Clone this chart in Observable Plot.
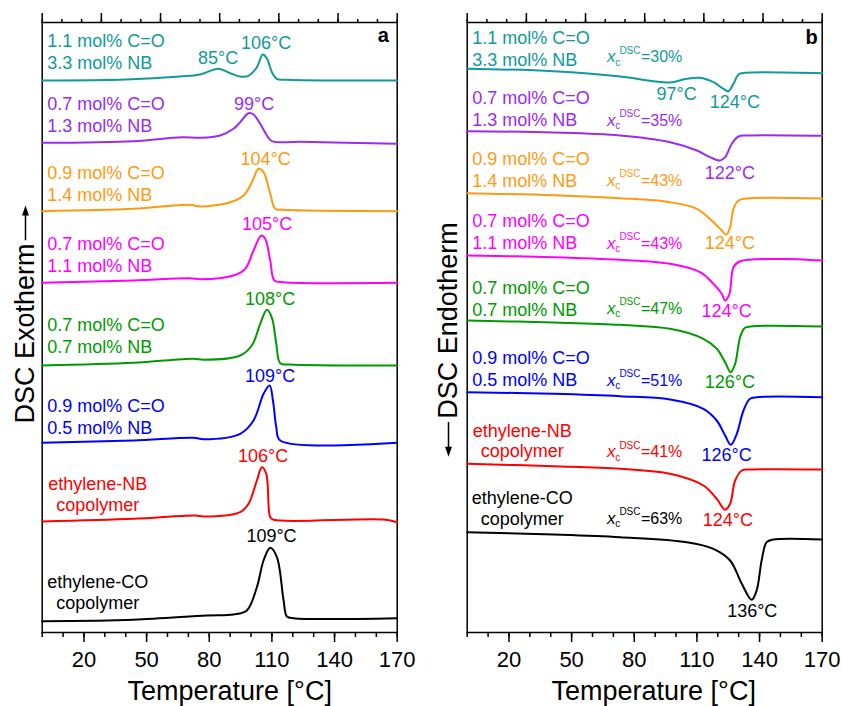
<!DOCTYPE html>
<html><head><meta charset="utf-8">
<script src="https://cdn.jsdelivr.net/npm/d3@7"></script>
<script src="https://cdn.jsdelivr.net/npm/@observablehq/plot@0.6"></script>
<style>
body{margin:0;background:#fff;}
#wrap{position:relative;width:842px;height:706px;font-family:"Liberation Sans",Arial,sans-serif;background:#fff;overflow:hidden;}
.panel{position:absolute;top:0;}
.ytitle{position:absolute;white-space:nowrap;font-size:27px;line-height:27px;transform:translate(-50%,-50%) rotate(-90deg);display:flex;align-items:center;color:#000;}
.ytitle svg{display:block;}
</style></head><body>
<div id="wrap">
  <div class="panel" id="pa" style="left:0px"></div>
  <div class="panel" id="pb" style="left:420px"></div>
  <div class="ytitle" style="left:25px;top:314px"><span>DSC Exotherm</span><svg width="36" height="12" style="margin-left:3px"><line x1="0" y1="6" x2="27" y2="6" stroke="#000" stroke-width="1.5"/><polygon points="25,2.5 35,6 25,9.5" fill="#000"/></svg></div>
  <div class="ytitle" style="left:448px;top:340px"><svg width="36" height="12" style="margin-right:3px"><polygon points="1,6 11,2.5 11,9.5" fill="#000"/><line x1="9" y1="6" x2="36" y2="6" stroke="#000" stroke-width="1.5"/></svg><span>DSC Endotherm</span></div>
</div>
<script>
// ---------- axis ticks ----------
const bottomMajorTicks = [20, 50, 80, 110, 140, 170];
const bottomMinorTicks = [0, 10, 20, 30, 40, 50, 60, 70, 80, 90, 100, 110, 120, 130, 140, 150, 160, 170];
// top axis of the original has its own scale 0..180 spanning the same width
const topAxisMax = 180;
const topMajorTicks = [0, 30, 60, 90, 120, 150, 180];
const topMinorTicks = [0, 10, 20, 30, 40, 50, 60, 70, 80, 90, 100, 110, 120, 130, 140, 150, 160, 170, 180];

// ---------- sample names & colours ----------
const sampleNames = [
  "1.1 mol% C=O\n3.3 mol% NB",
  "0.7 mol% C=O\n1.3 mol% NB",
  "0.9 mol% C=O\n1.4 mol% NB",
  "0.7 mol% C=O\n1.1 mol% NB",
  "0.7 mol% C=O\n0.7 mol% NB",
  "0.9 mol% C=O\n0.5 mol% NB",
  "ethylene-NB\ncopolymer",
  "ethylene-CO\ncopolymer"
];
const sampleColors = ["#11999b", "#9a2cf0", "#ff9a10", "#ff00ff", "#009a00", "#0000ff", "#ff0000", "#000000"];

// ---------- panel a: crystallisation (exotherm), [T °C, offset signal] ----------
const a_teal = [[0,552],[40,553],[66,556],[75.6,558],[84.4,563.7],[90,559.3],[94.8,556],[98.8,556.7],[102.8,565.3],[105.6,578],[107.6,574],[110,560.3],[112.3,553.7],[117,552.7],[170,552]];
const a_purple = [[0,489.7],[43.7,491.3],[66.9,495.3],[75.6,494.7],[85.2,497],[91.6,503.7],[94.8,510.3],[98.8,519.3],[101.2,518],[104.4,508.7],[107.6,497],[110,491.3],[123.6,490.7],[170,488.7]];
const a_orange = [[0,421.3],[43.7,423.7],[70.9,427.7],[75.6,426],[90,430.3],[96.4,437],[100.4,450.3],[103.6,463.7],[106,460.3],[109.2,438.7],[111.6,423.7],[115.6,422.7],[170,421.3]];
const a_magenta = [[0,349.7],[43.7,352],[70.9,354.3],[75.6,353.3],[91.6,357],[97.2,363.7],[101.2,382],[104.9,397],[106.8,393.7],[109.2,372],[111.2,352],[115.6,350.3],[170,349.7]];
const a_green = [[0,267],[43.7,269.7],[72.5,273.7],[77.3,272.7],[94.8,277],[100.4,287],[104.4,308.7],[107.6,322.7],[110,314.7],[112.1,288.7],[114,269.3],[118.8,268],[170,267]];
const a_blue = [[0,189.7],[43.7,192],[72.5,194.7],[77.3,193.3],[94.8,198.7],[101.2,212],[106,238.7],[108.9,247],[110.5,232],[112.1,205.3],[114,192],[170,189.7]];
const a_red = [[0,111],[43.7,113.7],[73.3,117],[77.3,116],[94.8,120.3],[98.8,128.7],[102.8,152],[105.2,165.3],[107.3,158.7],[109.2,115.3],[110.8,112.7],[163.6,113],[170,110.3]];
const a_black = [[0,11.3],[43.7,12.7],[78.9,17],[91.6,18],[98,22],[102.8,45.3],[106,72],[109.2,84.7],[112.4,75.3],[115.6,32],[117.2,16],[120.4,14.3],[170,14.3]];

// ---------- panel b: melting (endotherm) ----------
const b_teal = [[0,563.7],[41.4,561.3],[73.3,556],[89.2,551.3],[97.2,550],[105.2,553.7],[111.5,554.7],[117.9,550.3],[122.7,543.7],[125.1,541.3],[127.5,548.7],[129.9,558],[133,559.7],[170,559.3]];
const b_purple = [[0,501.3],[41.4,500],[73.3,497],[97.2,490.3],[110,482],[116.3,475.3],[121.1,472],[123.5,475.3],[126.7,488.7],[129.9,496],[133.8,497],[170,496.7]];
const b_orange = [[0,439.3],[41.4,437.3],[73.3,434.3],[97.2,430.3],[110,423.7],[117.9,410.3],[121.9,402],[124,397.7],[125.9,405.3],[127.5,423.7],[129.9,432],[133.8,434],[170,434]];
const b_magenta = [[0,377],[41.4,375.3],[73.3,372.7],[97.2,368.7],[111.5,360.3],[117.9,348.7],[121.9,338.7],[123.5,332],[125.6,338.7],[127.5,365.3],[130.7,371.3],[170,372]];
const b_green = [[0,312],[41.4,310],[73.3,307.7],[97.2,303.7],[113.1,293.7],[119.5,283.7],[123.5,270.3],[126.2,260.3],[128.3,268.7],[130.7,295.3],[133,304.7],[137,306.3],[170,306]];
const b_blue = [[0,240.3],[41.4,238.7],[73.3,236.3],[97.2,233],[113.1,223.7],[119.5,212],[123.5,197],[126.2,187.7],[129.1,198.7],[132.3,222],[135.4,233.7],[138.6,235.3],[170,235.3]];
const b_red = [[0,168.7],[41.4,166.3],[73.3,163.7],[97.2,158.7],[113.1,147],[119.5,133.7],[123.5,122.7],[125.9,128.7],[128.3,152],[131.5,162],[135.4,163],[170,163]];
const b_black = [[0,100.3],[41.4,98],[73.3,95.3],[105.2,90.3],[117.9,83.7],[125.9,72],[131.5,48.7],[136.2,32.7],[138.6,42],[141,72],[143.4,90.3],[146.6,93],[170,93]];

// ---------- annotations ----------
const a_nameY = [563.5, 501, 432, 360.3, 279.3, 199, 122, 24];
const b_nameY = [567, 507, 445.3, 383.7, 317, 247, 175.3, 108];

const a_peakText = ["85°C", "106°C", "99°C", "104°C", "105°C", "108°C", "109°C", "106°C", "109°C"];
const a_peakT = [84.25, 107.2, 101.5, 107.0, 107.7, 109.1, 109.1, 105.8, 109.8];
const a_peakY = [568.7, 583.7, 523, 468, 402.7, 328, 251, 170.3, 91];
const a_peakSample = [0, 0, 1, 2, 3, 4, 5, 6, 7];

const b_peakText = ["97°C", "124°C", "122°C", "124°C", "124°C", "126°C", "126°C", "124°C", "136°C"];
const b_peakT = [100.3, 128.2, 125.8, 125.8, 124.2, 125.8, 124.2, 124.8, 136.5];
const b_peakY = [532.7, 524.7, 453.7, 383.7, 316, 244.7, 172, 107, 15.3];
const b_peakSample = [0, 0, 1, 2, 3, 4, 5, 6, 7];

const b_crystallinity = [30, 35, 43, 43, 47, 51, 41, 63]; // x_c^DSC in %
const b_crystY = [570.3, 507, 447, 384, 318.7, 247, 175.3, 108.7];

const FONT = '"Liberation Sans", Arial, Helvetica, sans-serif';

function buildPanel(cfg) {
  const idx = d3.range(sampleNames.length);
  const names = idx.map(i => ({text: sampleNames[i], y: cfg.nameY[i], color: sampleColors[i], centered: i >= 6}));
  const peaks = cfg.peakText.map((t, i) => ({text: t, x: cfg.peakT[i], y: cfg.peakY[i], color: sampleColors[cfg.peakSample[i]]}));
  const toTop = v => v * 170 / topAxisMax;
  const marks = [
    Plot.frame({stroke: "#000", strokeWidth: 1.5}),
    Plot.axisX({anchor: "bottom", ticks: bottomMinorTicks, tickSize: 5, tickFormat: () => "", label: null, strokeWidth: 1.5}),
    Plot.axisX({anchor: "bottom", ticks: bottomMajorTicks, tickSize: 10, tickPadding: 9, fontSize: 22, label: null, strokeWidth: 1.5}),
    Plot.axisX({anchor: "top", ticks: topMinorTicks.map(toTop), tickSize: 4, tickFormat: () => "", label: null, strokeWidth: 1.5}),
    Plot.axisX({anchor: "top", ticks: topMajorTicks.map(toTop), tickSize: 10, tickFormat: () => "", label: null, strokeWidth: 1.5})
  ];
  cfg.traces.forEach((tr, i) => {
    marks.push(Plot.line(tr, {x: d => d[0], y: d => d[1], stroke: sampleColors[i], strokeWidth: 2, curve: "catmull-rom"}));
  });
  marks.push(
    Plot.text(names.filter(d => !d.centered), {x: () => 2.4, y: "y", text: "text", fill: "color", textAnchor: "start", lineAnchor: "bottom", lineHeight: 1.22, fontSize: 18}),
    Plot.text(names.filter(d => d.centered), {x: () => cfg.centerT, y: "y", text: "text", fill: "color", textAnchor: "middle", lineAnchor: "bottom", lineHeight: 1.13, fontSize: 18}),
    Plot.text(peaks, {x: "x", y: "y", text: "text", fill: "color", textAnchor: "middle", lineAnchor: "bottom", fontSize: 18}),
    Plot.text([cfg.letter], {frameAnchor: "top-right", dx: cfg.letterDx, dy: cfg.letterDy, fontWeight: "bold", fontSize: 20, textAnchor: "middle", lineAnchor: "bottom"}),
    Plot.text(["Temperature [°C]"], {frameAnchor: "bottom", dx: cfg.titleDx, dy: 67, lineAnchor: "bottom", fontSize: 27})
  );
  if (cfg.crystallinity) {
    const xc = cfg.crystallinity.map((v, i) => ({v, y: cfg.crystY[i], color: sampleColors[i]}));
    const xT = 66.9;
    marks.push(
      Plot.text(xc, {x: () => xT, y: "y", text: () => "x", fill: "color", fontStyle: "italic", textAnchor: "start", lineAnchor: "bottom", fontSize: 17}),
      Plot.text(xc, {x: () => xT, y: "y", text: () => "c", fill: "color", textAnchor: "start", lineAnchor: "bottom", fontSize: 10, dx: 8.3, dy: 3.5}),
      Plot.text(xc, {x: () => xT, y: "y", text: () => "DSC", fill: "color", textAnchor: "start", lineAnchor: "bottom", fontSize: 10, dx: 12.5, dy: -8.5}),
      Plot.text(xc, {x: () => xT, y: "y", text: d => "=" + d.v + "%", fill: "color", textAnchor: "start", lineAnchor: "bottom", fontSize: 16, dx: 34})
    );
  }
  return Plot.plot({
    width: cfg.width, height: 706,
    marginLeft: cfg.marginLeft, marginRight: cfg.marginRight, marginTop: 22, marginBottom: 74,
    x: {domain: [0, 170]},
    y: {domain: [0, 610], axis: null},
    color: {type: "identity"},
    style: {fontFamily: FONT, fontSize: "18px", color: "#000", background: "transparent", overflow: "visible"},
    marks
  });
}

document.getElementById("pa").appendChild(buildPanel({
  width: 420, marginLeft: 41.7, marginRight: 23.3,
  traces: [a_teal, a_purple, a_orange, a_magenta, a_green, a_blue, a_red, a_black],
  nameY: a_nameY, centerT: 26.6,
  peakText: a_peakText, peakT: a_peakT, peakY: a_peakY, peakSample: a_peakSample,
  letter: "a", letterDx: -14, letterDy: 19.7, titleDx: 10
}));
document.getElementById("pb").appendChild(buildPanel({
  width: 422, marginLeft: 46.7, marginRight: 20.3,
  traces: [b_teal, b_purple, b_orange, b_magenta, b_green, b_blue, b_red, b_black],
  nameY: b_nameY, centerT: 26.4,
  peakText: b_peakText, peakT: b_peakT, peakY: b_peakY, peakSample: b_peakSample,
  crystallinity: b_crystallinity, crystY: b_crystY,
  letter: "b", letterDx: -10.7, letterDy: 21.3, titleDx: 9
}));
</script>
</body></html>
